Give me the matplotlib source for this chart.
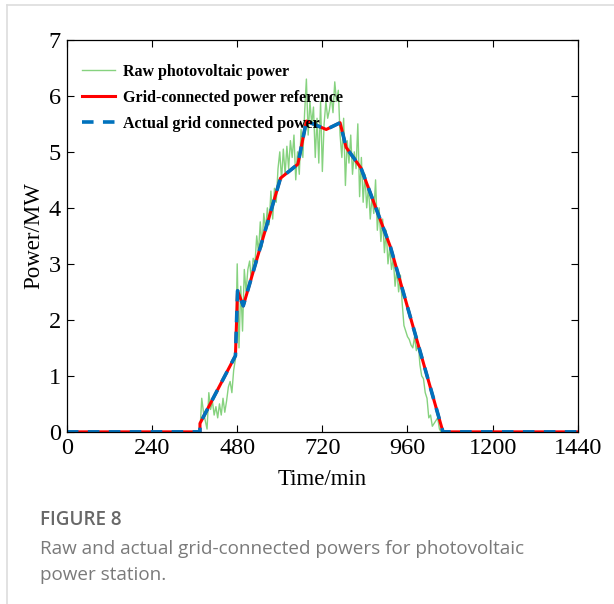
import numpy as np
import matplotlib.pyplot as plt
from matplotlib.lines import Line2D

# raw PV output, 5-minute samples during daylight (MW)
raw_t = [0, 370] + list(range(375, 1060, 5)) + [1440]
raw_p = [0, 0,
         0.0, 0.6, 0.35, 0.2, 0.05, 0.7, 0.4, 0.55, 0.3, 0.45, 0.25,
         0.5, 0.3, 0.6, 0.35, 0.55, 0.8, 0.9, 0.7, 1.1, 1.3,
         3.0, 1.5, 2.6, 1.8, 2.9, 2.5, 2.9, 3.05, 2.7, 3.1,
         3.0, 3.5, 3.2, 3.75, 3.3, 3.9, 3.6, 4.0, 3.7, 4.3,
         3.8, 4.35, 4.1, 4.7, 5.0, 4.5, 5.05, 4.6, 5.1, 4.7,
         5.2, 4.9, 5.3, 4.5, 5.0, 4.6, 5.4, 4.9, 5.7, 6.3,
         5.3, 5.9, 5.5, 5.8, 4.9, 5.6, 4.8, 5.9, 4.65, 5.5,
         5.9, 5.6, 5.75, 6.0, 5.7, 6.25, 5.9, 6.1, 5.3, 4.9,
         5.6, 4.4, 5.2, 4.8, 5.3, 4.6, 5.0, 4.7, 5.5, 4.2,
         4.9, 4.1, 4.6, 4.0, 4.4, 3.8, 4.2, 3.9, 4.5, 3.6,
         4.0, 3.4, 3.8, 3.2, 3.6, 3.0, 3.3, 2.9, 3.1, 2.6,
         2.9, 2.5, 2.8, 2.3, 1.9, 1.8, 1.7, 1.65, 1.55, 1.5,
         1.7, 1.45, 1.6, 1.2, 1.0, 0.95, 0.7, 0.6, 0.25, 0.3,
         0.1, 0.15, 0.2, 0.25, 0.05, 0.0,
         0]

# grid-connected reference (MW)
ref_t = [0, 375, 375, 475, 481, 497, 602, 651, 675, 731, 770, 787, 829, 912, 1060, 1440]
ref_p = [0, 0, 0.15, 1.36, 2.52, 2.25, 4.53, 4.78, 5.55, 5.40, 5.52, 5.08, 4.71, 3.3, 0, 0]

# actual grid-connected power follows the reference
act_t = ref_t
act_p = ref_p

plt.rcParams['font.family'] = ['Liberation Serif', 'DejaVu Serif']

fig = plt.figure(figsize=(6.14, 6.04), dpi=100)
ax = fig.add_axes([0.109, 0.285, 0.832, 0.649])

ax.plot(raw_t, raw_p, color='#86d27f', lw=1.0, label='Raw photovoltaic power')
ax.plot(ref_t, ref_p, color='#ff0000', lw=2.2, label='Grid-connected power reference')
ax.plot(act_t, act_p, color='#0072bd', lw=2.6, ls=(0, (3.2, 2.6)),
        label='Actual grid connected power')

ax.set_xlim(0, 1440)
ax.set_ylim(0, 7)
ax.set_xticks([0, 240, 480, 720, 960, 1200, 1440])
ax.set_yticks(range(0, 8))
ax.tick_params(direction='in', top=True, right=True, labelsize=17.5, length=5, width=0.8, pad=4.5)
for s in ax.spines.values():
    s.set_linewidth(0.9)
ax.set_xlabel('Time/min', fontsize=16.5, labelpad=7)
ax.set_ylabel('Power/MW', fontsize=16.5, labelpad=3)

leg = ax.legend(loc='upper left', bbox_to_anchor=(0.004, 0.971), frameon=False,
                prop={'weight': 'bold', 'size': 11.5},
                handlelength=2.1, labelspacing=0.62, borderaxespad=0.4, handletextpad=0.5)

# panel frame and caption
fig.add_artist(Line2D([0.0114, 1.0], [0.992, 0.992], color='#dddddd', lw=1.2))
fig.add_artist(Line2D([0.0114, 0.0114], [0.0, 0.992], color='#dddddd', lw=1.2))
fig.text(0.065, 0.13, 'FIGURE 8', family='Open Sans', fontsize=13.6, weight='semibold',
         color='#686868')
fig.text(0.065, 0.083, 'Raw and actual grid-connected powers for photovoltaic',
         family='Open Sans', fontsize=13.6, color='#7a7a7a')
fig.text(0.065, 0.04, 'power station.', family='Open Sans', fontsize=13.6, color='#7a7a7a')

fig.savefig('out.png', dpi=100)
